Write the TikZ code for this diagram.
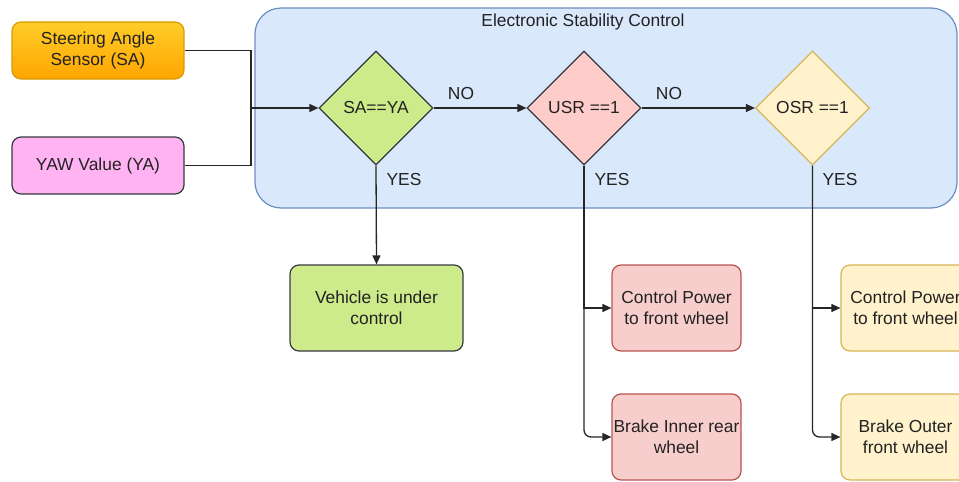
\documentclass[tikz,border=0pt]{standalone}
\usepackage{fontspec}
\setmainfont{Liberation Sans}
\usetikzlibrary{shapes.geometric,arrows.meta}
\definecolor{txt}{HTML}{222222}
\definecolor{darkstroke}{HTML}{36393D}
\definecolor{ctrfill}{HTML}{DAE8FC}
\definecolor{ctrstroke}{HTML}{6C8EBF}
\definecolor{greenfill}{HTML}{CDEB8B}
\definecolor{redfill}{HTML}{F8CECC}
\definecolor{redstroke}{HTML}{B85450}
\definecolor{pinkdia}{HTML}{FFCCCC}
\definecolor{yelfill}{HTML}{FFF2CC}
\definecolor{yelstroke}{HTML}{D6B656}
\definecolor{orgtop}{HTML}{FFCD28}
\definecolor{orgbot}{HTML}{FFA500}
\definecolor{orgstroke}{HTML}{D79B00}
\definecolor{yawfill}{HTML}{FFB3F3}
\tikzset{
  every node/.style={font=\fontsize{17.4pt}{21pt}\selectfont, text=txt},
  box/.style={rectangle, rounded corners=9pt, line width=1.2pt, align=center, inner sep=0pt},
  dia/.style={diamond, line width=1.2pt, minimum width=114pt, minimum height=114pt, inner sep=0pt, align=center},
  conn/.style={line width=1.3pt, draw=black!85},
  arr/.style={conn, -{Triangle[length=9pt,width=8pt]}},
  lbl/.style={inner sep=0pt},
}
\begin{document}
\begin{tikzpicture}[x=1pt,y=-1pt]
\useasboundingbox (0,0) rectangle (959,482);
\clip (0,0) rectangle (959,482);
% container
\node[box, rounded corners=26pt, fill=ctrfill, draw=ctrstroke, minimum width=702pt, minimum height=200pt] (ctr) at (606,108) {};
\node[lbl] (title) at (583,22) {Electronic Stability Control};
% inputs
\node[box, top color=orgtop, bottom color=orgbot, draw=orgstroke, minimum width=172pt, minimum height=57pt] (sa) at (98,50.5) {Steering Angle\\Sensor (SA)};
\node[box, fill=yawfill, draw=darkstroke, minimum width=172pt, minimum height=57pt] (ya) at (98,165.5) {YAW Value (YA)};
% diamonds
\node[dia, fill=greenfill, draw=darkstroke] (d1) at (376,108) {SA==YA};
\node[dia, fill=pinkdia, draw=darkstroke] (d2) at (584,108) {USR ==1};
\node[dia, fill=yelfill, draw=yelstroke] (d3) at (812.5,108) {OSR ==1};
% outputs
\node[box, fill=greenfill, draw=darkstroke, minimum width=173pt, minimum height=86pt] (veh) at (376.5,308) {Vehicle is under\\control};
\node[box, fill=redfill, draw=redstroke, minimum width=129pt, minimum height=86pt] (cp1) at (676.5,308) {Control Power\\to front wheel};
\node[box, fill=redfill, draw=redstroke, minimum width=129pt, minimum height=86pt] (bi) at (676.5,437) {Brake Inner rear\\wheel};
\node[box, fill=yelfill, draw=yelstroke, minimum width=129pt, minimum height=86pt] (cp2) at (905.5,308) {Control Power\\to front wheel};
\node[box, fill=yelfill, draw=yelstroke, minimum width=129pt, minimum height=86pt] (bo) at (905.5,437) {Brake Outer\\front wheel};
% connectors
\coordinate (j) at (251,108);
\draw[conn] (sa.east) -| (j);
\draw[conn] (ya.east) -| (j);
\draw[arr] (j) -- (d1.west);
\draw[arr] (d1.east) -- (d2.west);
\draw[arr] (d2.east) -- (d3.west);
\draw[arr] (d1.south) -- (veh.north);
\draw[arr] (d2.south) |- (cp1.west);
\draw[arr, rounded corners=7pt] (d2.south) |- (bi.west);
\draw[arr] (d3.south) |- (cp2.west);
\draw[arr, rounded corners=7pt] (d3.south) |- (bo.west);
% labels
\node[lbl] (no1) at (461,94) {NO};
\node[lbl] (no2) at (669,94) {NO};
\node[lbl] (yes1) at (404,180) {YES};
\node[lbl] (yes2) at (612,180) {YES};
\node[lbl] (yes3) at (840,180) {YES};
\end{tikzpicture}
\end{document}
